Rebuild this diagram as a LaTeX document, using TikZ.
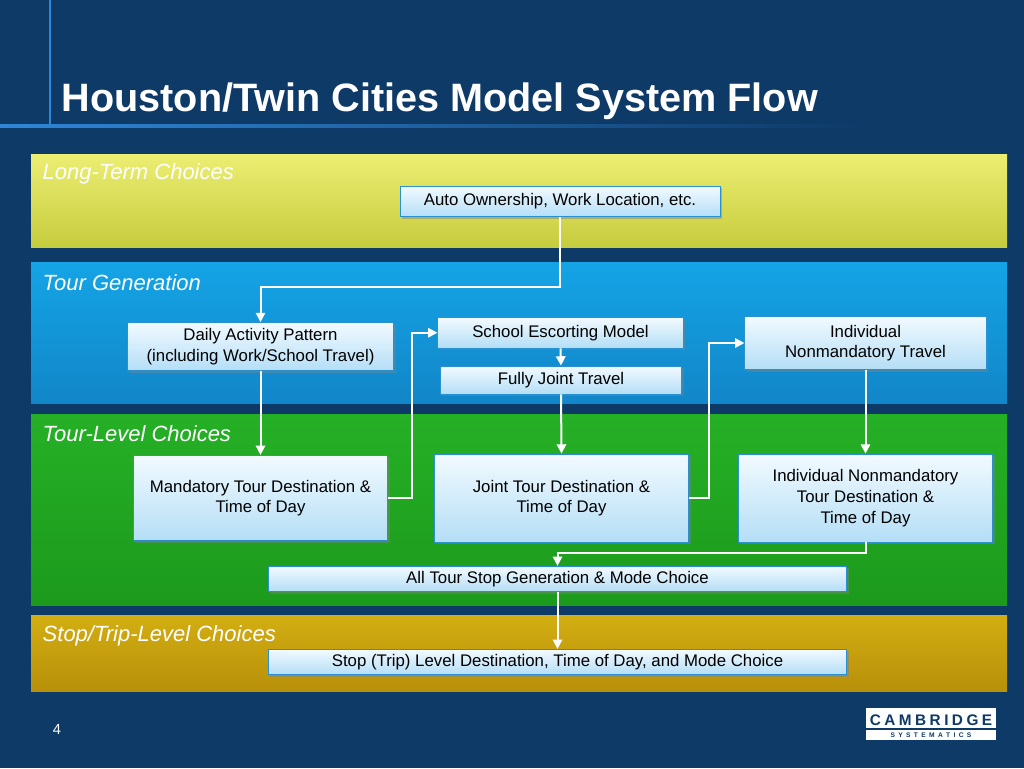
\documentclass[tikz,border=0pt]{standalone}
\usepackage{fontspec}
\setmainfont{Liberation Sans}
\usetikzlibrary{arrows.meta,shadows}
\definecolor{bg}{HTML}{0E3A68}
\definecolor{boxtop}{HTML}{F2FAFF}
\definecolor{boxbot}{HTML}{B4DEF6}
\definecolor{boxline}{HTML}{2A90D0}
\definecolor{yt}{HTML}{ECEE72}\definecolor{yb}{HTML}{C6CC3E}
\definecolor{bt}{HTML}{14A4E6}\definecolor{bb}{HTML}{1286C8}
\definecolor{gt}{HTML}{26B026}\definecolor{gb}{HTML}{1C9A1C}
\definecolor{ot}{HTML}{D2AE12}\definecolor{ob}{HTML}{B8900A}
\definecolor{lineb}{HTML}{2F86D8}
\tikzset{
  bandlabel/.style={anchor=west,text=white,font=\fontsize{16.5}{19}\selectfont\itshape},
  box/.style={draw=boxline,line width=0.6pt,top color=boxtop,bottom color=boxbot,align=center,
    text=black,font=\fontsize{12.6}{15.5}\selectfont,inner sep=2pt,
    drop shadow={shadow xshift=1.5pt,shadow yshift=-1.5pt,opacity=0.45}},
  flow/.style={draw=white,line width=1.5pt,-{Triangle[length=7pt,width=7pt]}}
}
\begin{document}
\begin{tikzpicture}[x=0.75pt,y=-0.75pt]
\useasboundingbox (0,0) rectangle (1024,768);
\fill[bg] (0,0) rectangle (1024,768);
\draw[line width=2pt,color=lineb] (50,0) -- (50,125);
\shade[left color=lineb,right color=bg] (0,124) rectangle (860,127);
\node[anchor=west,text=white,font=\fontsize{29.7}{36}\selectfont\bfseries] (title) at (57,101) {Houston/Twin Cities Model System Flow};
% bands
\shade[top color=yt,bottom color=yb] (31,154) rectangle (1007,247);
\shade[top color=bt,bottom color=bb] (31,262) rectangle (1007,403);
\shade[top color=gt,bottom color=gb] (31,414) rectangle (1007,605);
\shade[top color=ot,bottom color=ob] (31,615) rectangle (1007,691);
\node[bandlabel] (l1) at (38,174) {Long-Term Choices};
\node[bandlabel] (l2) at (38,283) {Tour Generation};
\node[bandlabel] (l3) at (38,434) {Tour-Level Choices};
\node[bandlabel] (l4) at (38,636) {Stop/Trip-Level Choices};
% boxes
\node[box,minimum width=240pt,minimum height=23pt] (auto) at (560,201.5) {Auto Ownership, Work Location, etc.};
\node[box,minimum width=200pt,minimum height=36pt] (dap) at (260.5,346.5) {Daily Activity Pattern\\(including Work/School Travel)};
\node[box,minimum width=184pt,minimum height=23pt,anchor=north] (sch) at (560.5,317) {School Escorting Model};
\node[box,minimum width=181pt,minimum height=21pt] (fjt) at (561,380) {Fully Joint Travel};
\node[box,minimum width=181pt,minimum height=40pt] (int) at (865.5,343) {Individual\\Nonmandatory Travel};
\node[box,minimum width=191pt,minimum height=64pt] (mtd) at (260.5,498) {Mandatory Tour Destination \&\\Time of Day};
\node[box,minimum width=191pt,minimum height=66pt] (jtd) at (561.5,498) {Joint Tour Destination \&\\Time of Day};
\node[box,minimum width=191pt,minimum height=66pt] (itd) at (865.5,498) {Individual Nonmandatory\\Tour Destination \&\\Time of Day};
\node[box,minimum width=434pt,minimum height=19pt] (ats) at (557.5,579) {All Tour Stop Generation \& Mode Choice};
\node[box,minimum width=434pt,minimum height=19pt] (stp) at (557.5,662) {Stop (Trip) Level Destination, Time of Day, and Mode Choice};
% connectors
\draw[flow] (auto.south) |- (260.5,287) -- (dap.north);
\draw[flow] (sch.south) -- (fjt.north);
\draw[flow] (dap.south) -- (mtd.north);
\draw[flow] (fjt.south) -- (jtd.north);
\draw[flow] (int.south) -- (itd.north);
\draw[flow] (mtd.east) -- (412,498) |- (sch.west);
\draw[flow] (jtd.east) -- (709,498) |- (int.west);
\draw[flow] (itd.south) -- (865.5,553) -| (ats.north);
\draw[flow] (ats.south) -- (stp.north);
% footer
\node[text=white,font=\fontsize{11}{13}\selectfont] (pg) at (57,729) {4};
\fill[white] (866,708) rectangle (996,740);
\node[text=bg,font=\fontsize{11.5}{14}\selectfont\bfseries] (cam) at (931,720) {C\hspace{2.6pt}A\hspace{2.6pt}M\hspace{2.6pt}B\hspace{2.6pt}R\hspace{2.6pt}I\hspace{2.6pt}D\hspace{2.6pt}G\hspace{2.6pt}E};
\draw[bg,line width=1pt] (866,729) -- (996,729);
\node[text=bg,font=\fontsize{5}{6}\selectfont\bfseries] (sys) at (931,735) {S\hspace{2.5pt}Y\hspace{2.5pt}S\hspace{2.5pt}T\hspace{2.5pt}E\hspace{2.5pt}M\hspace{2.5pt}A\hspace{2.5pt}T\hspace{2.5pt}I\hspace{2.5pt}C\hspace{2.5pt}S};
\end{tikzpicture}
\end{document}
